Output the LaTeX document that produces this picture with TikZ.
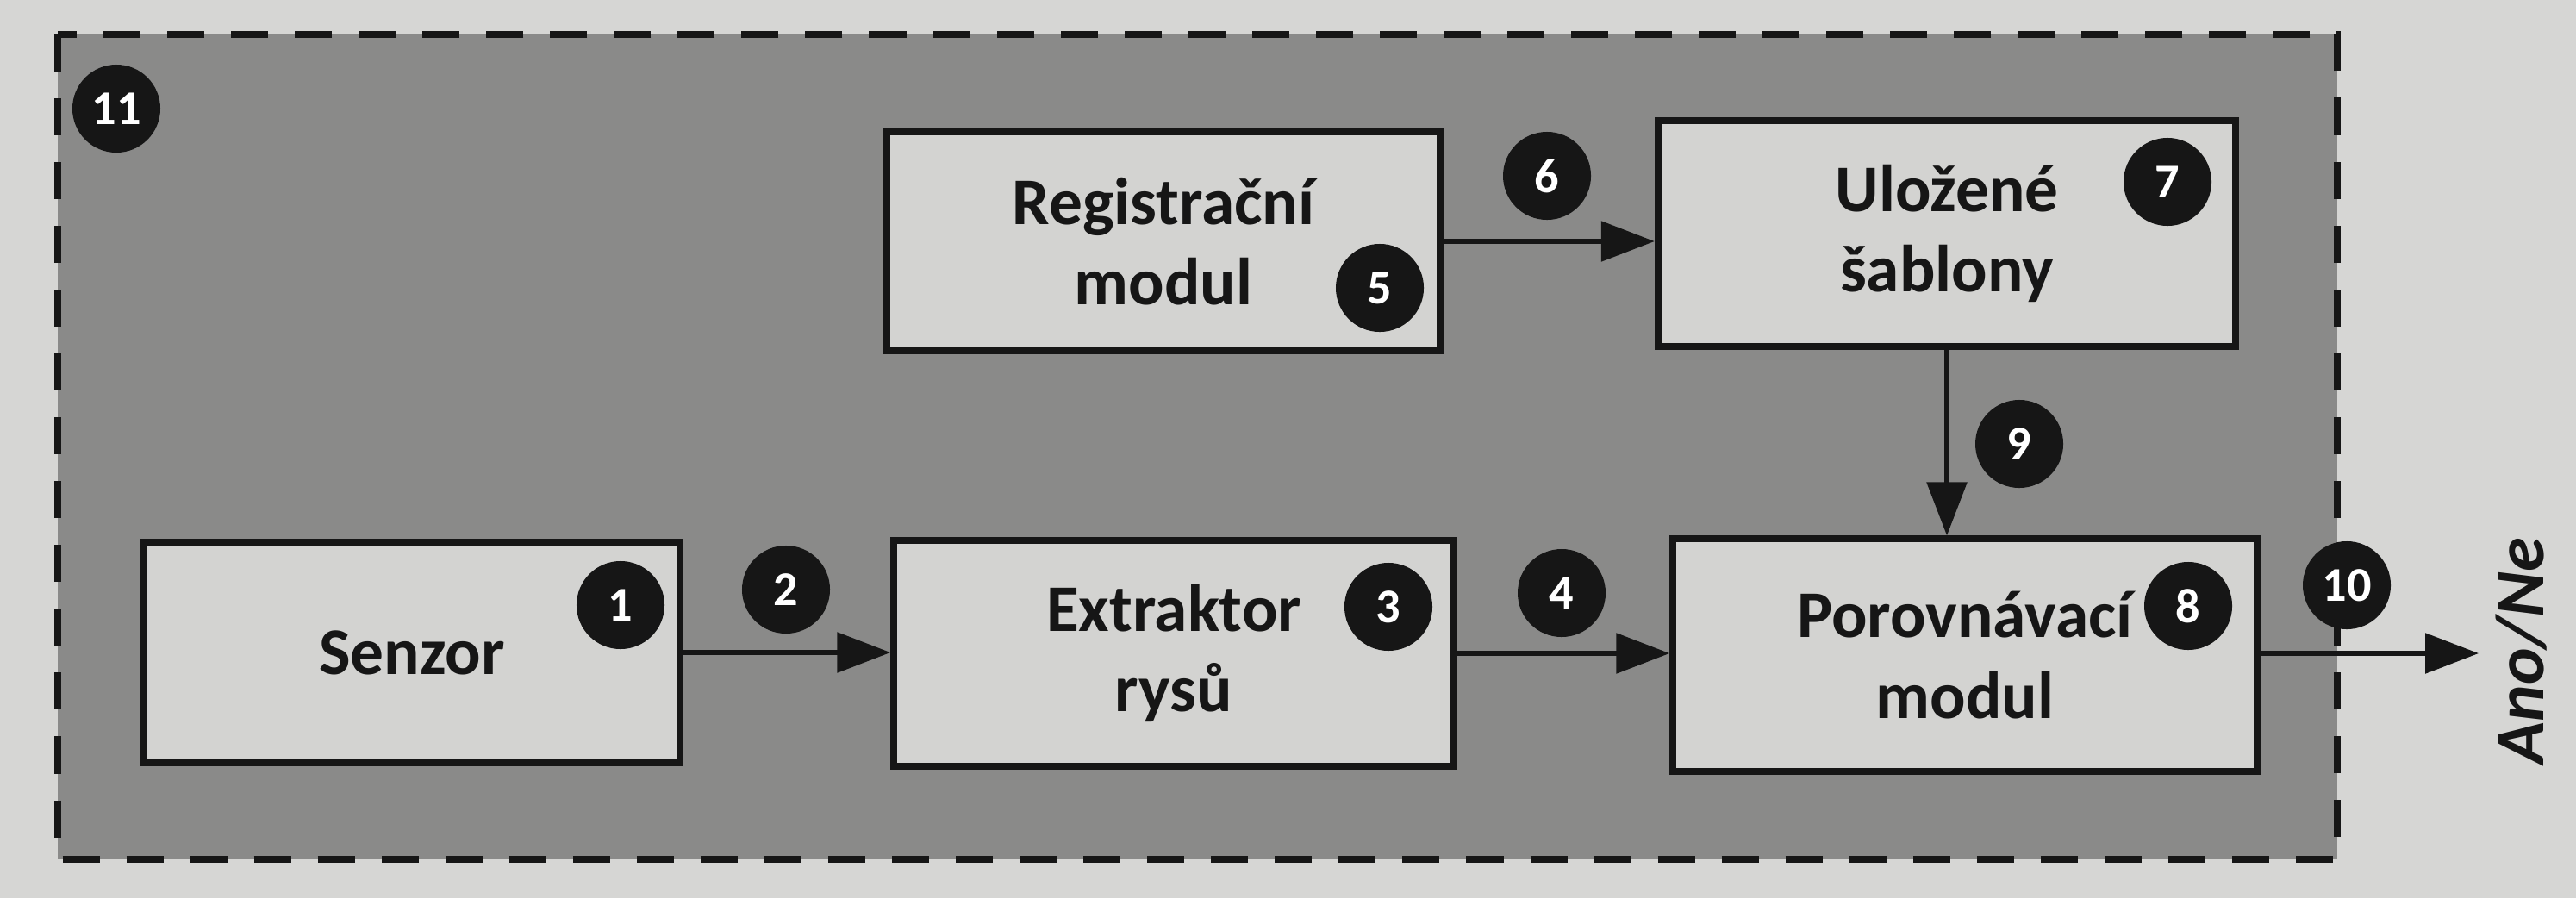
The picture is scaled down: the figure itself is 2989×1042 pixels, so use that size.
\documentclass[tikz,border=0pt]{standalone}
\usepackage{fontspec}
\setmainfont{Carlito}
\usetikzlibrary{arrows.meta}
\definecolor{pagegray}{RGB}{214,214,212}
\definecolor{panelgray}{RGB}{138,138,137}
\definecolor{boxgray}{RGB}{211,211,209}
\definecolor{inkblack}{RGB}{22,22,22}
\def\badge(#1)(#2)#3{\node[badge] (#2) at (#1) {#3};}

\begin{document}
\begin{tikzpicture}[x=0.01cm, y=-0.01cm,
	block/.style={draw=inkblack, line width=2.3pt, fill=boxgray, text=inkblack, align=center, inner sep=0pt, font=\fontsize{22}{26.5}\selectfont\bfseries},
	badge/.style={circle, fill=inkblack, text=white, minimum size=1.02cm, inner sep=0pt, font=\fontsize{16}{16}\selectfont\bfseries},
	flow/.style={draw=inkblack, line width=1.6pt, -{Triangle[length=0.62cm, width=0.46cm]}}]
		%%%%% START %%%%%
		
		\useasboundingbox (0, 0) rectangle (2989, 1042);
		\fill[pagegray] (0, 0) rectangle (2989, 1042);
		
		\draw[fill=panelgray, draw=inkblack, line width=2.4pt, dash pattern=on 0.43cm off 0.31cm] (67, 40) rectangle (2712, 997);
		
		\node[block, minimum width=6.22cm, minimum height=2.56cm] (sensor) at (478, 757) {Senzor};
		\node[block, minimum width=6.49cm, minimum height=2.61cm] (extract) at (1362, 758) {Extraktor\\rysů};
		\node[block, minimum width=6.42cm, minimum height=2.53cm] (reg) at (1350, 280) {Registrační\\modul};
		\node[block, minimum width=6.70cm, minimum height=2.62cm] (store) at (2259, 271) {Uložené\\šablony};
		\node[block, minimum width=6.77cm, minimum height=2.69cm] (cmp) at (2280, 760) {Porovnávací\\modul};
		
		\coordinate (outend) at (2876, 758);
		\node[rotate=90, text=inkblack, font=\fontsize{23}{23}\selectfont\bfseries\itshape] (verdict) at (2926, 755) {Ano/Ne};
		
		\draw[flow] (sensor.east) -- (sensor.east -| extract.west);
		\draw[flow] (extract.east) -- (extract.east -| cmp.west);
		\draw[flow] (reg.east) -- (reg.east -| store.west);
		\draw[flow] (store.south) -- (store.south |- cmp.north);
		\draw[flow] (cmp.east |- outend) -- (outend);
		
		\badge(720, 702)(b1){1}
		\badge(912, 684)(b2){2}
		\badge(1611, 704)(b3){3}
		\badge(1812, 688)(b4){4}
		\badge(1601, 334)(b5){5}
		\badge(1795, 204)(b6){6}
		\badge(2515, 211)(b7){7}
		\badge(2539, 703)(b8){8}
		\badge(2343, 515)(b9){9}
		\badge(2723, 679)(b10){10}
		\badge(135, 126)(b11){11}
		
		%%%%% END %%%%%
	\end{tikzpicture}
\end{document}
